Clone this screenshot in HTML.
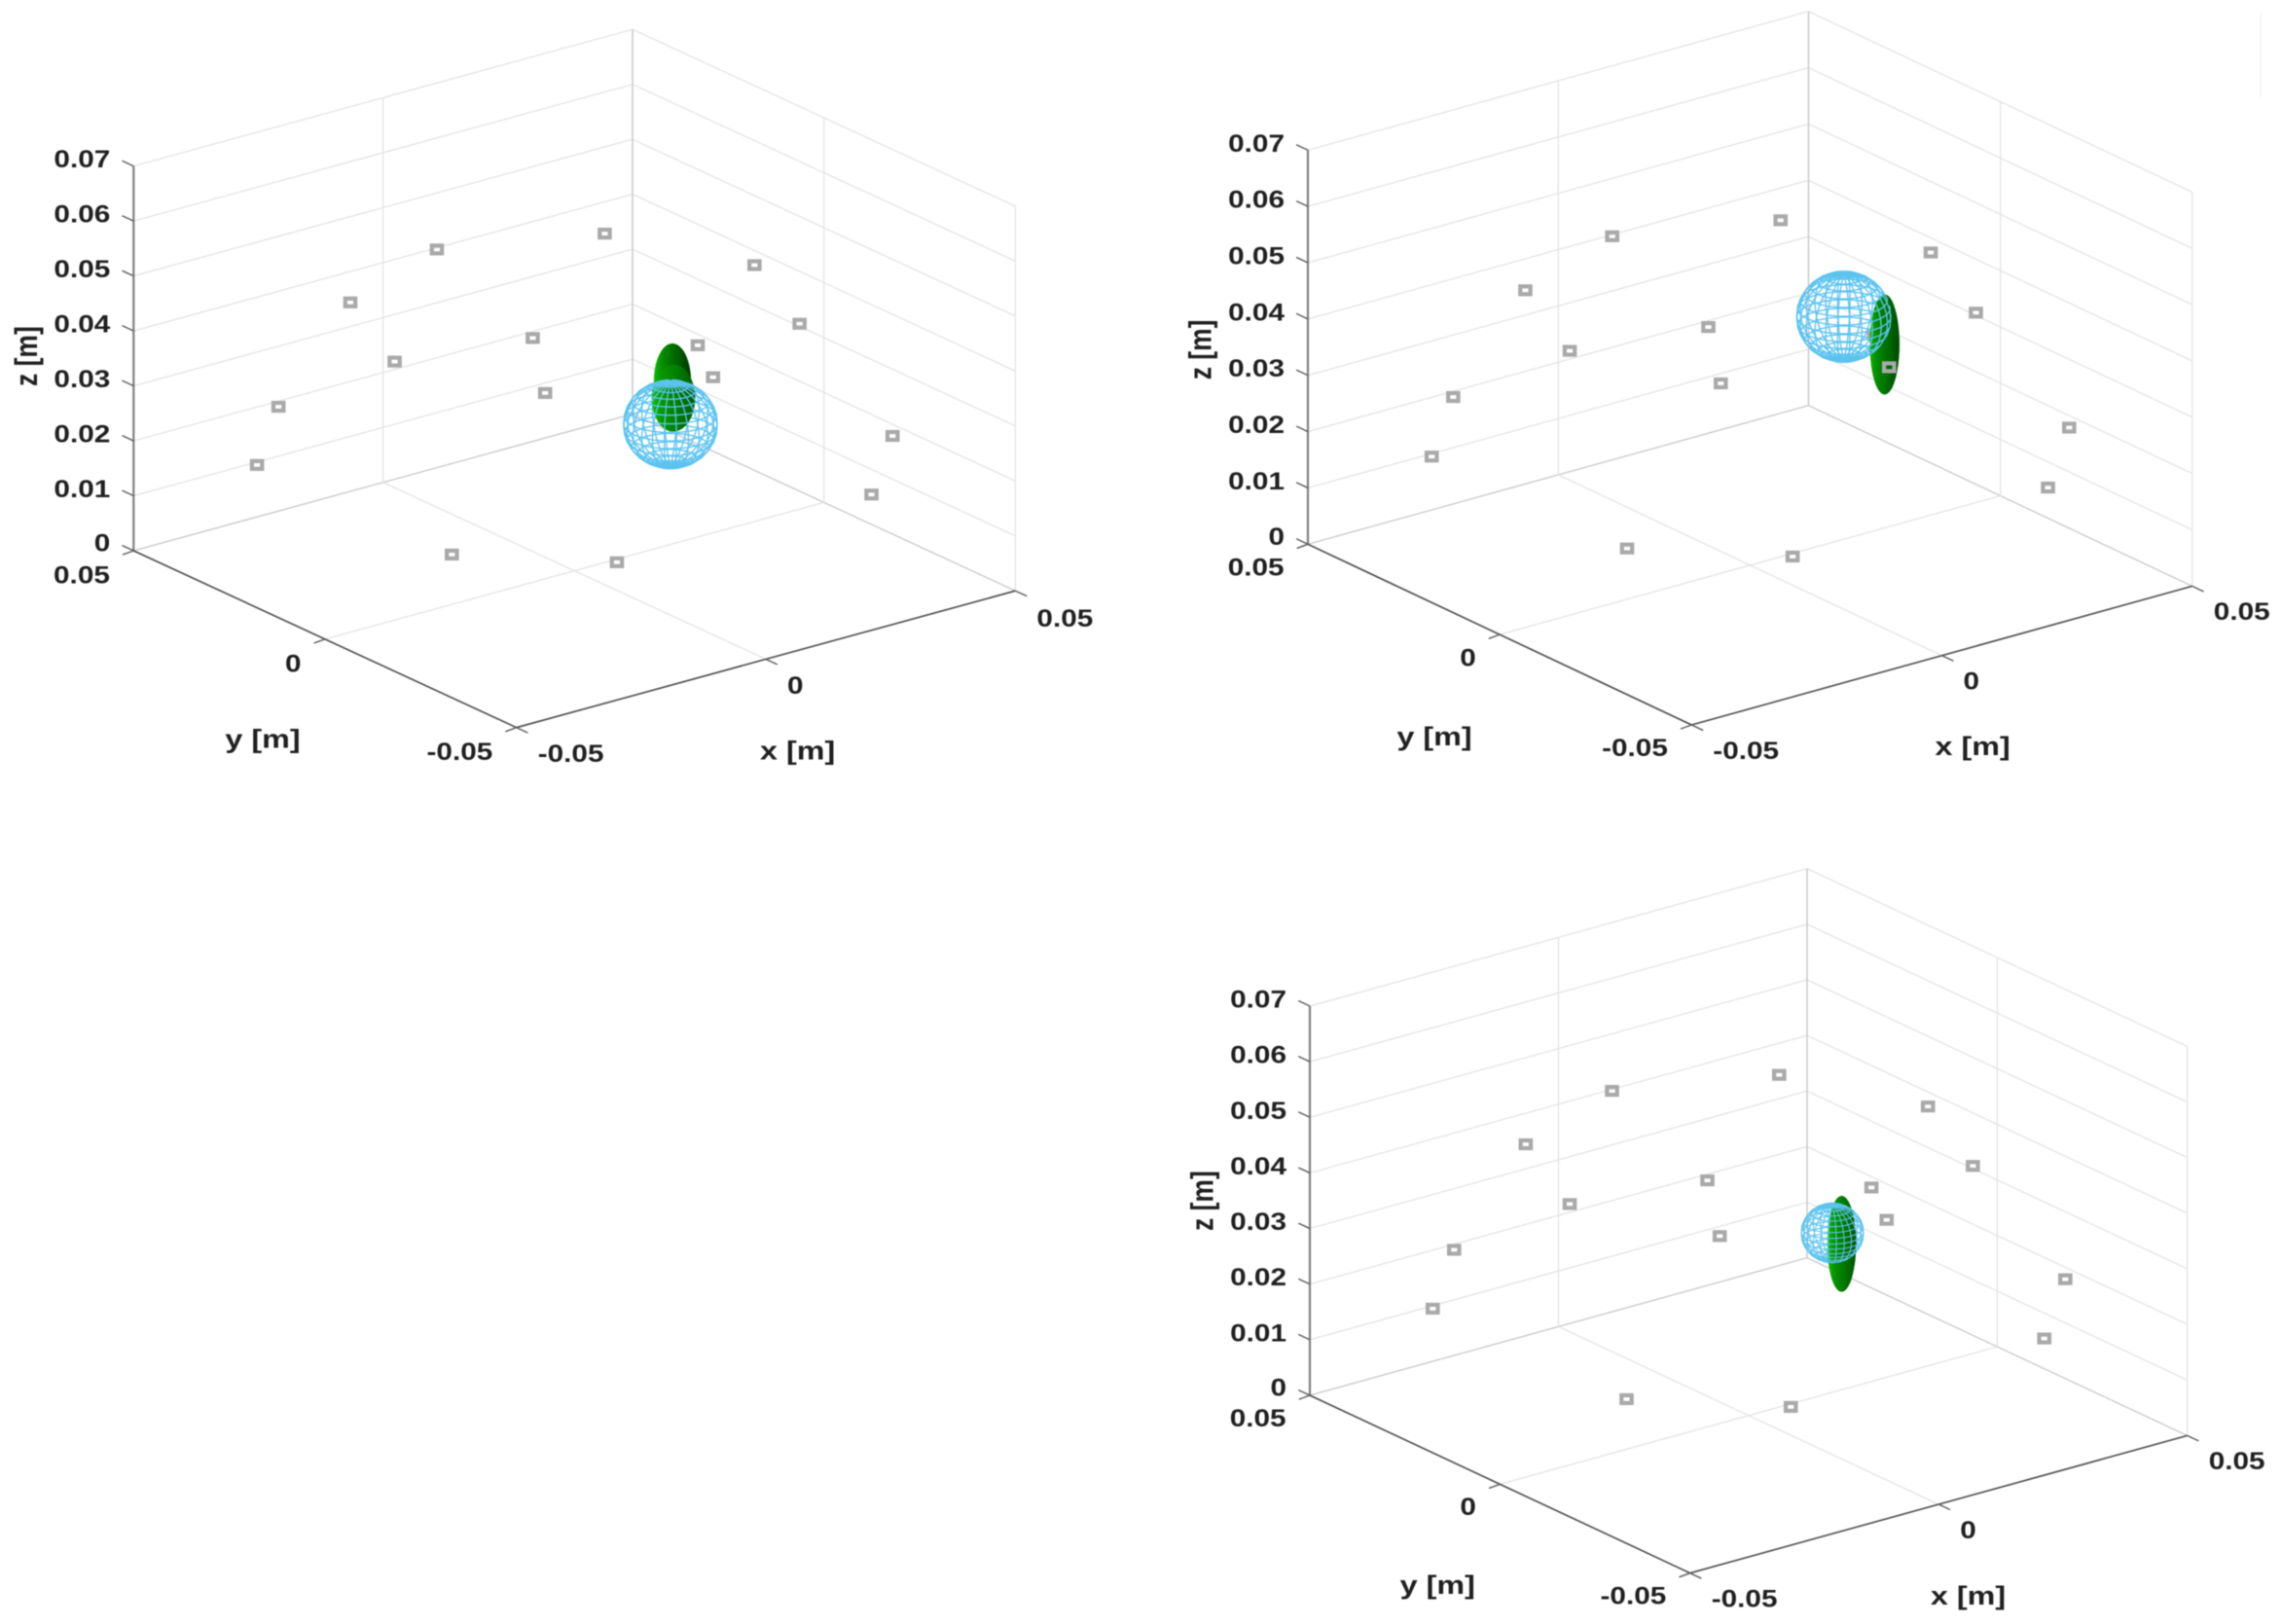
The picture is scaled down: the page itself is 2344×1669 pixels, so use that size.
<!DOCTYPE html>
<html lang="en">
<head>
<meta charset="utf-8">
<title>Magnet localisation 3D views</title>
<style>
html,body{margin:0;padding:0;background:#fff;width:2344px;height:1669px;overflow:hidden}
svg{display:block;filter:blur(0.45px)}
text{font-family:"Liberation Sans",sans-serif;font-weight:700;fill:#1f1f1f}
</style>
</head>
<body>
<svg id="figure" xmlns="http://www.w3.org/2000/svg" width="2344" height="1669" viewBox="0 0 2344 1669">
<rect x="0" y="0" width="2344" height="1669" fill="#ffffff"/>
<line x1="2323" y1="13" x2="2323" y2="100" stroke="#f0f0f0" stroke-width="1.2"/>
</svg>
<script>
/* axis ticks and labels */
const xTicks = [-0.05, 0, 0.05];
const xTickLabels = ['-0.05', '0', '0.05'];
const yTicks = [0.05, 0, -0.05];
const yTickLabels = ['0.05', '0', '-0.05'];
const zTicks = [0, 0.01, 0.02, 0.03, 0.04, 0.05, 0.06, 0.07];
const zTickLabels = ['0', '0.01', '0.02', '0.03', '0.04', '0.05', '0.06', '0.07'];

/* sensor positions in metres (shared by all views) */
const sensorX = [-0.0291, -0.0248, -0.0104, 0.00695, -0.01303, 0.01466, 0.01714, 0.02909, 0.03608, 0.04511, 0.02471, 0.02777, 0.04841, 0.04418, -0.011, 0.00766];
const sensorY = [0.045, 0.045, 0.045, 0.045, 0.03, 0.03, 0.03, 0.03, 0, 0, 0, 0, -0.02, -0.02, 0.0177, -0.0011];
const sensorZ = [0.01202, 0.02154, 0.03695, 0.04227, 0.03166, 0.02906, 0.01844, 0.04447, 0.04665, 0.03373, 0.03489, 0.02832, 0.01893, 0.00932, 0, 0];
const sensorsBehindGreen = [10];

/* blue wireframe sphere per view */
const sphereX = [0.01924, 0.01872, 0.01686];
const sphereY = [0, 0, 0];
const sphereZ = [0.02187, 0.03952, 0.02867];
const sphereR = [0.0075, 0.0075, 0.005];

/* green ellipsoids: view index, centre, half axes, shading */
const greenView = [0, 0, 1, 2];
const greenX = [0.01963, 0.01983, 0.02688, 0.01872];
const greenY = [0, 0, 0, 0];
const greenZ = [0.02967, 0.0265, 0.03259, 0.02624];
const greenA = [0.0029, 0.0034, 0.0023, 0.00225];
const greenC = [0.00663, 0.00586, 0.00877, 0.0085];
const greenBright = [112, 132, 118, 128];
const greenSlope = [55, 38, 42, 42];

/* projection of each panel: floor corners and axis height */
const views = [
  {A:[137.3,566],  B:[530.7,747.7],  C:[1043.4,607.2],  H:395.3},
  {A:[1344,559.3], B:[1738.3,745],   C:[2252.8,602.4],  H:405},
  {A:[1346,1434],  B:[1736.7,1616.7],C:[2247.7,1475.4], H:400}
];
const xLabelOffset = [[-6,103],[-7,102.5],[-8.3,103]];
const yLabelOffset = [[-102.6,111.5],[-105.7,114],[-102.7,112.5]];
const yTickShift = [2.5, 1.2, 0.8];
const xTickShift = [1.5, 0.8, 0.8];

const NS = 'http://www.w3.org/2000/svg';
const svg = document.getElementById('figure');
const TICK_SIZE = 25, TITLE_SIZE = 26.5, STRETCH = 1.19, TITLE_STRETCH = 1.22;
const SPHERE_LAT = 16, SPHERE_LON = 24;

function axisU(x){ return (x + 0.05) / 0.1; }
function axisV(y){ return (0.05 - y) / 0.1; }
function axisW(z){ return z / 0.07; }
function project(view, x, y, z){
  const u = axisU(x), v = axisV(y), w = axisW(z);
  const ex = [view.C[0]-view.B[0], view.C[1]-view.B[1]];
  const ey = [view.B[0]-view.A[0], view.B[1]-view.A[1]];
  return [view.A[0] + u*ex[0] + v*ey[0], view.A[1] + u*ex[1] + v*ey[1] - w*view.H];
}
function viewDirection(view){
  const ex = [(view.C[0]-view.B[0])/0.1, (view.C[1]-view.B[1])/0.1];
  const ey = [(view.B[0]-view.A[0])/0.1, (view.B[1]-view.A[1])/0.1];
  const r1 = [ex[0], -ey[0], 0];
  const r2 = [ex[1], -ey[1], -view.H/0.07];
  const c = [r1[1]*r2[2]-r1[2]*r2[1], r1[2]*r2[0]-r1[0]*r2[2], r1[0]*r2[1]-r1[1]*r2[0]];
  const n = Math.hypot(c[0],c[1],c[2]);
  return [-c[0]/n, -c[1]/n, -c[2]/n];
}
function addLine(parent, p, q, color, width, name){
  const el = document.createElementNS(NS, 'line');
  
  
  el.setAttribute('x1', p[0].toFixed(2));
  el.setAttribute('y1', p[1].toFixed(2));
  el.setAttribute('x2', q[0].toFixed(2));
  el.setAttribute('y2', q[1].toFixed(2));
  el.setAttribute('stroke', color);
  el.setAttribute('stroke-width', width);
  parent.appendChild(el);
}
function addText(parent, str, x, y, anchor, size, stretch, name){
  const el = document.createElementNS(NS, 'text');
  
  
  el.setAttribute('transform', 'translate(' + x.toFixed(2) + ',' + y.toFixed(2) + ') scale(' + stretch + ',1)');
  el.setAttribute('text-anchor', anchor);
  el.setAttribute('font-size', size);
  el.textContent = str;
  parent.appendChild(el);
}

function drawFrame(g, view, idx){
  const GRID = '#e3e3e3', EDGE = '#c6c6c6', AXIS = '#4a4a4a';
  /* z grid on the two back walls */
  zTicks.forEach(function(z){
    const a = project(view, -0.05, 0.05, z), d = project(view, 0.05, 0.05, z), c = project(view, 0.05, -0.05, z);
    const col = z === 0 ? EDGE : GRID;
    addLine(g, a, d, col, 1.25, 'z-gridline-left-wall');
    addLine(g, d, c, col, 1.25, 'z-gridline-right-wall');
  });
  /* x = 0 grid */
  addLine(g, project(view,0,-0.05,0), project(view,0,0.05,0), GRID, 1.25, 'x-gridline-floor');
  addLine(g, project(view,0,0.05,0), project(view,0,0.05,0.07), GRID, 1.25, 'x-gridline-wall');
  /* y = 0 grid */
  addLine(g, project(view,-0.05,0,0), project(view,0.05,0,0), GRID, 1.25, 'y-gridline-floor');
  addLine(g, project(view,0.05,0,0), project(view,0.05,0,0.07), GRID, 1.25, 'y-gridline-wall');
  /* back vertical edges */
  addLine(g, project(view,0.05,0.05,0), project(view,0.05,0.05,0.07), EDGE, 1.4, 'back-corner-edge');
  addLine(g, project(view,0.05,-0.05,0), project(view,0.05,-0.05,0.07), GRID, 1.25, 'right-wall-edge');
  /* axes */
  addLine(g, project(view,-0.05,0.05,0), project(view,-0.05,0.05,0.07), '#808080', 2.2, 'z-axis-line');
  addLine(g, project(view,-0.05,0.05,0), project(view,-0.05,-0.05,0), AXIS, 1.6, 'y-axis-line');
  addLine(g, project(view,-0.05,-0.05,0), project(view,0.05,-0.05,0), AXIS, 1.6, 'x-axis-line');
  /* ticks and labels */
  const ex = [view.C[0]-view.B[0], view.C[1]-view.B[1]];
  const ey = [view.B[0]-view.A[0], view.B[1]-view.A[1]];
  zTicks.forEach(function(z, i){
    const p = project(view,-0.05,0.05,z);
    addLine(g, p, [p[0]-ey[0]*0.03, p[1]-ey[1]*0.03], '#5a5a5a', 1.4, 'z-tick');
    addText(g, zTickLabels[i], p[0]-24, p[1]+(i===0?0.5:1.5), 'end', TICK_SIZE, STRETCH, 'z-tick-label');
  });
  yTicks.forEach(function(y, i){
    const p = project(view,-0.05,y,0);
    addLine(g, p, [p[0]-ex[0]*0.022, p[1]-ex[1]*0.022+1], '#5a5a5a', 1.4, 'y-tick');
    addText(g, yTickLabels[i], p[0]-24.4, p[1]+31+yTickShift[idx], 'end', TICK_SIZE, STRETCH, 'y-tick-label');
  });
  xTicks.forEach(function(x, i){
    const p = project(view,x,-0.05,0);
    addLine(g, p, [p[0]+ey[0]*0.03, p[1]+ey[1]*0.03], '#5a5a5a', 1.4, 'x-tick');
    addText(g, xTickLabels[i], p[0]+22, p[1]+34+xTickShift[idx]+(i===2&&idx===0?1.5:0), 'start', TICK_SIZE, STRETCH, 'x-tick-label');
  });
  /* axis titles */
  const x0 = project(view,0,-0.05,0), y0 = project(view,-0.05,0,0);
  addText(g, 'x [m]', x0[0]+xLabelOffset[idx][0], x0[1]+xLabelOffset[idx][1], 'start', TITLE_SIZE, TITLE_STRETCH, 'x-axis-title');
  addText(g, 'y [m]', y0[0]+yLabelOffset[idx][0], y0[1]+yLabelOffset[idx][1], 'start', TITLE_SIZE, TITLE_STRETCH, 'y-axis-title');
  const zt = document.createElementNS(NS, 'text');
  
  
  zt.setAttribute('transform', 'translate(' + (view.A[0]-99.5).toFixed(2) + ',' + (view.A[1]-169).toFixed(2) + ') scale(' + TITLE_STRETCH + ',1) rotate(-90)');
  zt.setAttribute('font-size', TITLE_SIZE);
  zt.textContent = 'z [m]';
  g.appendChild(zt);
}

function drawSensor(g, view, i){
  const p = project(view, sensorX[i], sensorY[i], sensorZ[i]);
  const el = document.createElementNS(NS, 'rect');
  
  
  el.setAttribute('x', (p[0]-5.2).toFixed(2));
  el.setAttribute('y', (p[1]-4).toFixed(2));
  el.setAttribute('width', 10.4);
  el.setAttribute('height', 8);
  el.setAttribute('fill', 'none');
  el.setAttribute('stroke', '#a9a9a9');
  el.setAttribute('stroke-width', 4.2);
  g.appendChild(el);
}

function drawGreen(g, view, k){
  const N = 28, M = 32;
  const vd = viewDirection(view);
  const cx = greenX[k], cy = greenY[k], cz = greenZ[k], a = greenA[k], c = greenC[k];
  const centre = project(view, cx, cy, cz);
  const hw = Math.hypot((view.C[0]-view.B[0])/0.1, (view.B[0]-view.A[0])/0.1) * a;
  const pts = function(i, j){
    const t = Math.PI * i / N - Math.PI/2, f = 2 * Math.PI * j / M;
    return [cx + a*Math.cos(t)*Math.cos(f), cy + a*Math.cos(t)*Math.sin(f), cz + c*Math.sin(t)];
  };
  const patches = [];
  for (let i = 0; i < N; i++){
    for (let j = 0; j < M; j++){
      const t = Math.PI * (i+0.5) / N - Math.PI/2, f = 2 * Math.PI * (j+0.5) / M;
      const nx = Math.cos(t)*Math.cos(f)/a, ny = Math.cos(t)*Math.sin(f)/a, nz = Math.sin(t)/c;
      if (nx*vd[0] + ny*vd[1] + nz*vd[2] < -0.02*Math.hypot(nx,ny,nz)) continue;
      const corners = [pts(i,j), pts(i+1,j), pts(i+1,j+1), pts(i,j+1)].map(function(q){ return project(view,q[0],q[1],q[2]); });
      const mx = (corners[0][0]+corners[2][0])/2;
      const l = Math.max(-1, Math.min(1, (mx-centre[0])/hw));
      const shade = Math.round(greenBright[k] - greenSlope[k]*l + 54*Math.max(0,-l-0.55));
      patches.push({d: corners, shade: shade});
    }
  }
  const group = document.createElementNS(NS, 'g');
  
  
  patches.forEach(function(pt){
    const el = document.createElementNS(NS, 'polygon');
    
    
    el.setAttribute('points', pt.d.map(function(q){ return q[0].toFixed(1)+','+q[1].toFixed(1); }).join(' '));
    const col = 'rgb(' + Math.max(0, Math.round((pt.shade-110)*0.2)) + ',' + pt.shade + ',0)';
    el.setAttribute('fill', col);
    el.setAttribute('stroke', col);
    el.setAttribute('stroke-width', 0.7);
    group.appendChild(el);
  });
  g.appendChild(group);
}

/* hemisphere: 1 draws the half facing the viewer, -1 the far half */
function drawSphere(g, view, k, hemisphere){
  const cx = sphereX[k], cy = sphereY[k], cz = sphereZ[k], r = sphereR[k];
  const vd = viewDirection(view);
  const unit = function(i, j){
    const t = Math.PI * i / SPHERE_LAT - Math.PI/2, f = 2 * Math.PI * j / SPHERE_LON;
    return [Math.cos(t)*Math.cos(f), Math.cos(t)*Math.sin(f), Math.sin(t)];
  };
  const screen = function(q){ return project(view, cx + r*q[0], cy + r*q[1], cz + r*q[2]); };
  let d = '';
  const seg = function(a, b){
    const facing = (a[0]+b[0])*vd[0] + (a[1]+b[1])*vd[1] + (a[2]+b[2])*vd[2];
    if ((facing >= 0 ? 1 : -1) !== hemisphere) return;
    const p = screen(a), q = screen(b);
    d += 'M' + p[0].toFixed(1) + ' ' + p[1].toFixed(1) + 'L' + q[0].toFixed(1) + ' ' + q[1].toFixed(1);
  };
  for (let j = 0; j < SPHERE_LON; j++){
    for (let i = 0; i < SPHERE_LAT; i++) seg(unit(i, j), unit(i+1, j));
  }
  for (let i = 1; i < SPHERE_LAT; i++){
    for (let j = 0; j < SPHERE_LON; j++) seg(unit(i, j), unit(i, j+1));
  }
  const el = document.createElementNS(NS, 'path');
  
  
  el.setAttribute('d', d);
  el.setAttribute('fill', 'none');
  el.setAttribute('stroke', '#5cc3ef');
  el.setAttribute('stroke-width', r < 0.006 ? 1.05 : 1.35);
  el.setAttribute('stroke-linecap', 'round');
  g.appendChild(el);
}

views.forEach(function(view, idx){
  const g = document.createElementNS(NS, 'g');
  
  
  svg.appendChild(g);
  drawFrame(g, view, idx);
  sensorsBehindGreen.forEach(function(i){ drawSensor(g, view, i); });
  drawSphere(g, view, idx, -1);
  greenView.forEach(function(v, k){ if (v === idx) drawGreen(g, view, k); });
  sensorX.forEach(function(_, i){ if (sensorsBehindGreen.indexOf(i) < 0) drawSensor(g, view, i); });
  drawSphere(g, view, idx, 1);
});
</script>
</body>
</html>
